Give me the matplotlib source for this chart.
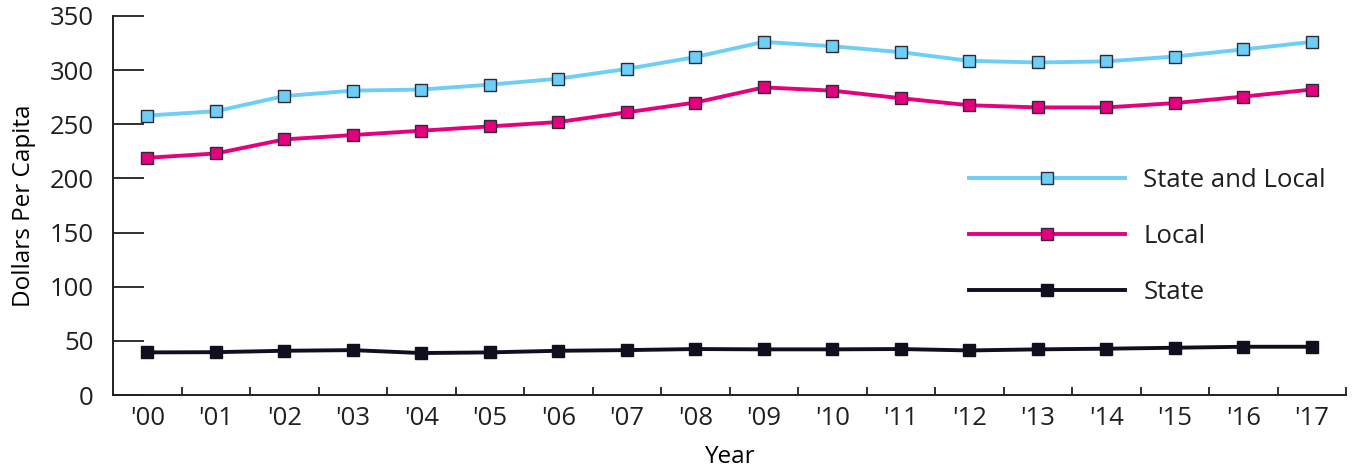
import numpy as np
import matplotlib.pyplot as plt

years = ["'00", "'01", "'02", "'03", "'04", "'05", "'06", "'07", "'08",
         "'09", "'10", "'11", "'12", "'13", "'14", "'15", "'16", "'17"]
state_and_local = [258, 262, 276, 281, 282, 286.5, 292, 301, 312,
                   326, 322, 316.5, 308.5, 307, 308, 312.5, 319, 326]
local = [219, 223, 236, 240, 244, 248, 252, 261, 270,
         284, 281, 274, 267.5, 265.5, 265.5, 269.5, 275.5, 282]
state = [39.4, 39.6, 40.9, 41.5, 38.8, 39.4, 40.9, 41.5, 42.5,
         42.2, 42.2, 42.5, 41.2, 42.2, 42.8, 43.7, 44.6, 44.6]

txt = '#231f20'
fs = 18.5
plt.rcParams['font.family'] = ['Open Sans', 'DejaVu Sans']
plt.rcParams['font.size'] = fs
plt.rcParams['text.color'] = txt

fig = plt.figure(figsize=(13.52, 4.67), dpi=100)
ax = fig.add_axes([0.0836, 0.154, 0.912, 0.812])

x = np.arange(len(years))
ax.plot(x, state_and_local, color='#6dcff6', lw=2.8, marker='s', ms=8,
        mfc='#6dcff6', mec='#2b2b3a', mew=1.0, label='State and Local')
ax.plot(x, local, color='#e6007e', lw=2.8, marker='s', ms=8,
        mfc='#e6007e', mec='#2b2b3a', mew=1.0, label='Local')
ax.plot(x, state, color='#0f0f1e', lw=2.8, marker='s', ms=8.5,
        mfc='#0f0f1e', mec='#0f0f1e', mew=1.0, label='State')

ax.set_xlim(-0.5, 17.5)
ax.set_ylim(0, 350)
ax.set_yticks(np.arange(0, 351, 50))

ax.set_xticks(np.arange(0.5, 18, 1))
ax.set_xticklabels([])
ax.set_xticks(x, minor=True)
ax.set_xticklabels(years, minor=True)
ax.tick_params(axis='x', which='major', direction='in', length=6, width=1.3, color=txt)
ax.tick_params(axis='x', which='minor', length=0, pad=8, labelcolor=txt, labelsize=fs)
ax.tick_params(axis='y', direction='in', length=22, width=1.3, color=txt, pad=14,
               labelcolor=txt, labelsize=fs)

for s in ['top', 'right']:
    ax.spines[s].set_visible(False)
for s in ['left', 'bottom']:
    ax.spines[s].set_linewidth(1.4)
    ax.spines[s].set_color(txt)

ax.set_ylabel('Dollars Per Capita', fontsize=17.5, labelpad=10)
ax.set_xlabel('Year', fontsize=17.5, labelpad=10)

ax.legend(loc='center left', bbox_to_anchor=(0.694, 0.419), frameon=False,
          borderpad=0, borderaxespad=0, handlelength=6.1, handletextpad=0.7,
          labelspacing=1.2, numpoints=1, fontsize=fs)

fig.savefig('out.png', dpi=100)
